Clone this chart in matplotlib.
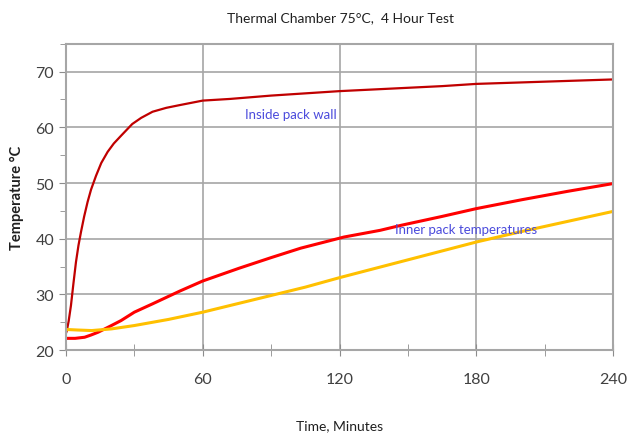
import matplotlib
matplotlib.use("Agg")
import matplotlib.pyplot as plt
from matplotlib.ticker import MultipleLocator

plt.rcParams['font.family'] = ['Lato', 'DejaVu Sans']

# Inside pack wall (dark red)
t_wall = [0, 0.4, 1.2, 2.2, 3.3, 4.4, 5.5, 6.6, 8, 9.5, 11, 13.2, 15.5, 18.3, 21, 24.2,
          29.1, 33, 38, 44, 50, 60, 72, 90, 105, 120, 135, 150, 165, 180, 195, 210,
          225, 240]
T_wall = [23.0, 23.5, 25.2, 28.0, 32.0, 35.8, 38.8, 41.2, 44.0, 46.6, 48.8, 51.3, 53.6,
          55.6, 57.1, 58.5, 60.6, 61.7, 62.8, 63.5, 64.0, 64.8, 65.1, 65.7, 66.1, 66.5,
          66.8, 67.1, 67.4, 67.8, 68.0, 68.2, 68.4, 68.6]

# Inner pack, red
t_red = [0, 4, 8.2, 11, 14.1, 19, 24.2, 30, 38, 50, 60, 76, 90, 103, 122, 137.8, 147,
         165, 180, 200, 220, 240]
T_red = [22.1, 22.1, 22.3, 22.7, 23.2, 24.2, 25.3, 26.8, 28.3, 30.6, 32.4, 34.7, 36.6,
         38.3, 40.3, 41.5, 42.4, 44.0, 45.4, 47.0, 48.5, 49.9]

# Inner pack, yellow
t_yel = [0, 5, 11.3, 20, 30, 45, 60, 76, 90, 105, 120, 137.8, 150, 165, 180, 200, 220, 240]
T_yel = [23.7, 23.6, 23.5, 23.8, 24.4, 25.5, 26.8, 28.4, 29.8, 31.3, 33.0, 34.9, 36.2,
         37.8, 39.4, 41.3, 43.1, 44.9]

x_ticks = [0, 60, 120, 180, 240]
y_ticks = [20, 30, 40, 50, 60, 70]

fig = plt.figure(figsize=(6.34, 4.35), dpi=100)
ax = fig.add_axes([0.104, 0.193, 0.863, 0.704])

ax.plot(t_wall, T_wall, color='#C00000', lw=1.6)
ax.plot(t_red, T_red, color='#FF0000', lw=2.2)
ax.plot(t_yel, T_yel, color='#FFC000', lw=2.2)

ax.set_xlim(0, 240)
ax.set_ylim(20, 75)
ax.set_xticks(x_ticks)
ax.set_yticks(y_ticks)
ax.xaxis.set_minor_locator(MultipleLocator(30))
ax.yaxis.set_minor_locator(MultipleLocator(5))
ax.grid(True, which='major', color='#A6A6A6', lw=1.2)
ax.set_axisbelow(True)
for s in ax.spines.values():
    s.set_color('#A6A6A6')
    s.set_linewidth(1.5)
ax.tick_params(which='both', direction='out', color='#8C8C8C', labelcolor='#404040',
               labelsize=11.5)
ax.tick_params(which='major', length=5)
ax.tick_params(which='minor', length=4)
ax.tick_params(axis='x', which='both', direction='inout', length=8, pad=12)

ax.text(78.5, 62.4, 'Inside pack wall', color='#4B4BDC', fontsize=9.5, va='center')
ax.text(144.4, 41.8, 'Inner pack temperatures', color='#4B4BDC', fontsize=9.5, va='center')

fig.text(0.537, 0.958, 'Thermal Chamber 75\u00b0C,  4 Hour Test', ha='center', va='center',
         fontsize=10, color='#202020')
ax.set_xlabel('Time, Minutes', fontsize=10, color='#202020', labelpad=24)
ax.set_ylabel('Temperature \u00b0C', fontsize=10.5, fontweight='bold', color='#202020',
              labelpad=8)

fig.savefig('out.png', dpi=100)
